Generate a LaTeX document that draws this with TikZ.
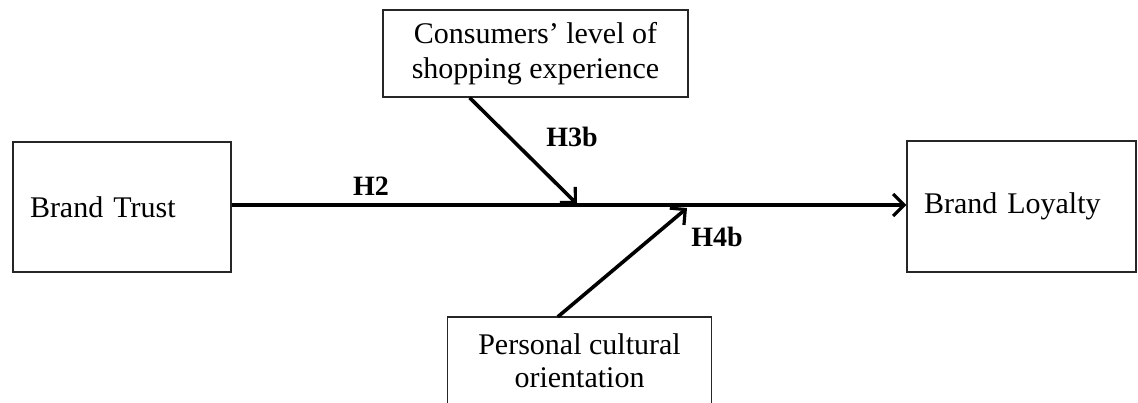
\documentclass[tikz,border=0pt]{standalone}
\usepackage{fontspec}
\setmainfont{Liberation Serif}
\usetikzlibrary{arrows.meta,calc}
\begin{document}
\begin{tikzpicture}[x=1pt,y=-1pt,
  box/.style={draw=black!85,line width=1.4pt,rectangle,inner sep=0pt,font=\fontsize{30}{35}\selectfont},
  lbl/.style={font=\fontsize{28}{30}\selectfont\bfseries},
  arr/.style={line width=3.6pt,-{Straight Barb[length=11pt,width=22pt,line width=3.2pt]}}]
\useasboundingbox (0,0) rectangle (1138,402);
\node[box,minimum width=218pt,minimum height=130pt,text width=184pt,align=left] (trust) at (122,207) {Brand Trust};
\node[box,minimum width=229pt,minimum height=131pt,text width=195pt,align=left] (loyal) at (1021.5,206.5) {Brand Loyalty};
\node[box,minimum width=305pt,minimum height=87pt,align=center] (exp) at (535.5,53.5) {Consumers’ level of\\shopping experience};
\node[box,draw=none,minimum width=263pt,minimum height=87pt,align=center,font=\fontsize{30}{33}\selectfont] (cult) at (579.5,361) {Personal cultural\\orientation};
\draw[line width=1.4pt,draw=black!85] (cult.south west) -- (cult.north west) -- (cult.north east) -- (cult.south east);
\coordinate (m1) at (577,204);
\coordinate (m2) at (687,208);
\draw[arr] (trust.east |- 0,205) -- (loyal.west |- 0,205);
\draw[arr] ($(exp.south west)!0.285!(exp.south east)$) -- (m1);
\draw[arr] ($(cult.north west)!0.418!(cult.north east)$) -- (m2);
\node[lbl] (h2) at (371,186) {H2};
\node[lbl] (h3) at (572,137) {H3b};
\node[lbl] (h4) at (717,237) {H4b};
\end{tikzpicture}
\end{document}
